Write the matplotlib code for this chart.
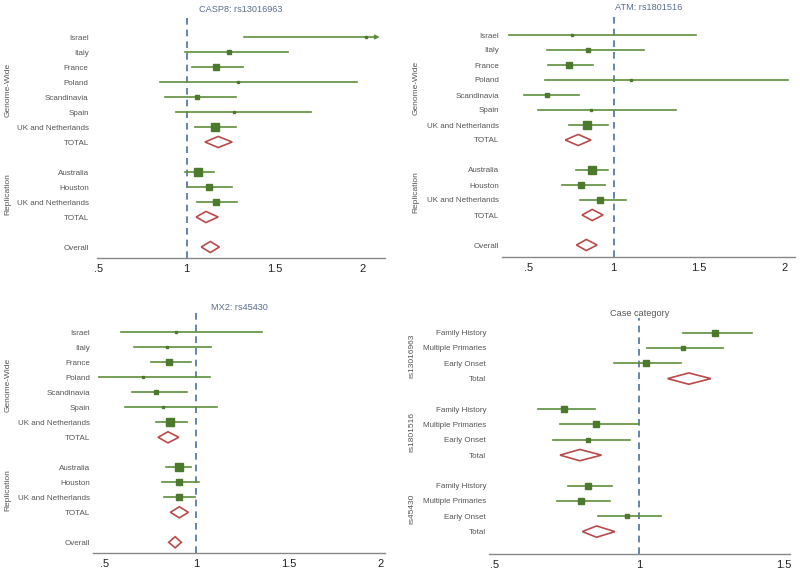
import matplotlib.pyplot as plt
from matplotlib.patches import Polygon

plt.rcParams["font.family"] = ["Liberation Sans", "DejaVu Sans"]

W, H = 800, 574

study_labels = ["Israel", "Italy", "France", "Poland", "Scandinavia", "Spain",
                "UK and Netherlands", "TOTAL", "",
                "Australia", "Houston", "UK and Netherlands", "TOTAL", "", "Overall"]
case_labels = ["Family History", "Multiple Primaries", "Early Onset", "Total", "",
               "Family History", "Multiple Primaries", "Early Onset", "Total", "",
               "Family History", "Multiple Primaries", "Early Onset", "Total"]

# odds ratios, lower and upper CI, box widths (px)
casp8_est = [2.02, 1.24, 1.166, 1.295, 1.06, 1.27, 1.16, 1.18, None, 1.065, 1.128, 1.166, 1.11, None, 1.135]
casp8_lo = [1.326, 0.99, 1.03, 0.85, 0.88, 0.94, 1.05, 1.105, None, 0.99, 1.01, 1.06, 1.055, None, 1.084]
casp8_hi = [2.40, 1.58, 1.32, 1.97, 1.28, 1.71, 1.28, 1.26, None, 1.154, 1.257, 1.286, 1.18, None, 1.187]
casp8_w = [2, 4, 6, 2, 4, 2, 8, 0, 0, 8, 6, 7, 0, 0, 0]

atm_est = [0.757, 0.848, 0.737, 1.10, 0.612, 0.87, 0.845, 0.792, None, 0.874, 0.81, 0.918, 0.874, None, 0.84]
atm_lo = [0.386, 0.612, 0.616, 0.60, 0.474, 0.558, 0.737, 0.717, None, 0.782, 0.70, 0.805, 0.815, None, 0.782]
atm_hi = [1.48, 1.18, 0.881, 2.02, 0.80, 1.365, 0.965, 0.868, None, 0.969, 0.951, 1.072, 0.938, None, 0.903]
atm_w = [2, 4, 6, 2, 4, 2, 8, 0, 0, 8, 6, 7, 0, 0, 0]

mx2_est = [0.891, 0.842, 0.851, 0.709, 0.782, 0.82, 0.858, 0.845, None, 0.905, 0.905, 0.904, 0.907, None, 0.884]
mx2_lo = [0.587, 0.66, 0.755, 0.468, 0.649, 0.609, 0.78, 0.791, None, 0.833, 0.815, 0.826, 0.858, None, 0.849]
mx2_hi = [1.356, 1.078, 0.973, 1.074, 0.949, 1.112, 0.951, 0.904, None, 0.973, 1.014, 0.991, 0.956, None, 0.918]
mx2_w = [2, 3, 7, 2, 4, 3, 8, 0, 0, 8, 6, 7, 0, 0, 0]

case_est = [1.261, 1.15, 1.023, 1.171, None, 0.741, 0.85, 0.825, 0.795, None, 0.825, 0.80, 0.959, 0.853]
case_lo = [1.152, 1.028, 0.913, 1.098, None, 0.651, 0.727, 0.703, 0.727, None, 0.753, 0.715, 0.858, 0.804]
case_hi = [1.388, 1.29, 1.144, 1.247, None, 0.849, 1.0, 0.968, 0.87, None, 0.907, 0.899, 1.075, 0.916]
case_w = [6, 5, 6, 0, 0, 6, 6, 5, 0, 0, 6, 6, 5, 0]

study_xticks = [0.5, 1, 1.5, 2]
study_xticklabels = [".5", "1", "1.5", "2"]
case_xticks = [0.5, 1, 1.5]
case_xticklabels = [".5", "1", "1.5"]

line_col = "#5e8f3c"
box_col = "#4b7a2c"
dia_col = "#b94a4a"
ref_col = "#4d6f9e"
text_col = "#555555"


def forest(box, first, step, xlim, ticks, ticklabels, labels, est, lo, hi, wid, title,
           groups, glabel_x, title_col, pad=2, arrow_end=None):
    l, r, t, b = box
    ax = fig.add_axes([l / W, 1 - b / H, (r - l) / W, (b - t) / H])
    rows = list(range(1, len(labels) + 1))
    ax.axvline(1, color=ref_col, lw=1.2, ls=(0, (4, 3)), zorder=1)
    for y, lab, e, a, c, w in zip(rows, labels, est, lo, hi, wid):
        if e is None:
            continue
        if lab in ("TOTAL", "Overall", "Total"):
            hh = 0.37
            ax.add_patch(Polygon([(a, y), (e, y - hh), (c, y), (e, y + hh)], closed=True,
                                 facecolor="white", edgecolor=dia_col, lw=1.2, zorder=3))
            continue
        if c > xlim[1]:
            ax.annotate("", xy=(arrow_end, y), xytext=(a, y),
                        arrowprops=dict(arrowstyle="-|>", color=line_col, lw=1.2,
                                        mutation_scale=6, shrinkA=0, shrinkB=0))
        else:
            ax.plot([a, c], [y, y], color=line_col, lw=1.2, zorder=2)
        ax.plot(e, y, marker="s", ms=w / 1.39, color=box_col, mec=box_col, zorder=4)
    ax.set_yticks(rows)
    ax.set_yticklabels(labels, fontsize=5.8, color=text_col)
    ax.tick_params(axis="y", length=0, pad=pad)
    ax.set_xticks(ticks)
    ax.set_xticklabels(ticklabels, fontsize=8, color="#222222")
    ax.tick_params(axis="x", length=0, pad=4)
    ax.set_xlim(*xlim)
    ax.set_ylim(1 + (b - first) / step, 1 + (t - first) / step)
    for s in ("top", "right", "left"):
        ax.spines[s].set_visible(False)
    ax.spines["bottom"].set_color("#888888")
    ax.spines["bottom"].set_linewidth(1.0)
    fig.text((l + r) / 2 / W, 1 - (t - 4) / H, title, fontsize=6.6, color=title_col,
             ha="center", va="center")
    for name, r0, r1 in groups:
        yc = first + step * ((r0 + r1) / 2 - 1)
        fig.text(glabel_x / W, 1 - yc / H, name, rotation=90, fontsize=6,
                 color=text_col, ha="center", va="center")
    return ax


fig = plt.figure(figsize=(W / 100, H / 100), dpi=100)
fig.patch.set_facecolor("white")

study_groups = [("Genome-Wide", 1, 8), ("Replication", 10, 13)]
case_groups = [("rs13016963", 1, 4), ("rs1801516", 6, 9), ("rs45430", 11, 14)]

forest((97, 385, 13, 258), 37, 15, (0.49, 2.13), study_xticks, study_xticklabels,
       study_labels, casp8_est, casp8_lo, casp8_hi, casp8_w, "CASP8: rs13016963",
       study_groups, 8, "#5a6e8a", pad=6, arrow_end=2.1)
forest((502, 795, 12, 257), 35, 15, (0.347, 2.06), study_xticks, study_xticklabels,
       study_labels, atm_est, atm_lo, atm_hi, atm_w, "ATM: rs1801516",
       study_groups, 416, "#5a6e8a")
forest((93, 385, 312, 553), 332.3, 15, (0.437, 2.026), study_xticks, study_xticklabels,
       study_labels, mx2_est, mx2_lo, mx2_hi, mx2_w, "MX2: rs45430",
       study_groups, 8, "#5a6e8a")
forest((489, 790, 318, 554), 332.7, 15.3, (0.482, 1.52), case_xticks, case_xticklabels,
       case_labels, case_est, case_lo, case_hi, case_w, "Case category",
       case_groups, 412, "#555555")

fig.savefig("out.png", dpi=100)
